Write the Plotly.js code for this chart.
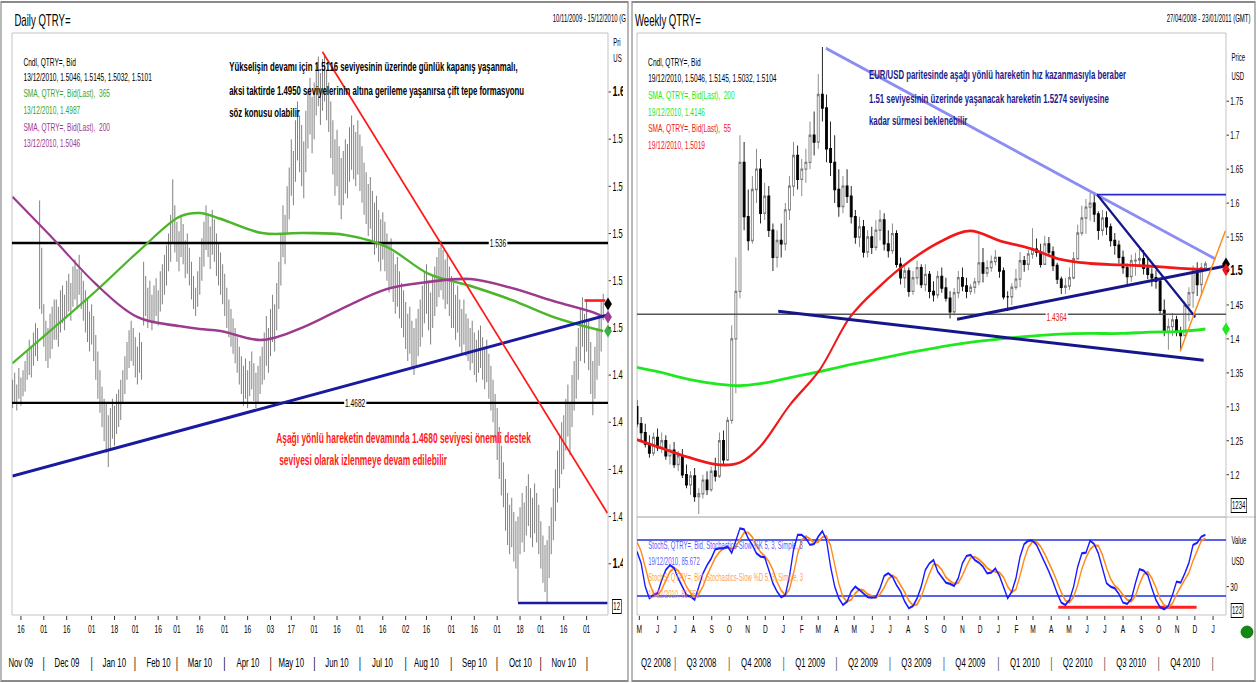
<!DOCTYPE html>
<html><head><meta charset="utf-8">
<script src="https://cdn.plot.ly/plotly-3.0.1.min.js"></script>
<style>
html,body{margin:0;padding:0;background:#fff;overflow:hidden}
#wrap{width:1256px;height:683px;overflow:hidden;position:relative}
#chart{width:2093px;height:683px;transform:scaleX(0.60010);transform-origin:0 0}
</style></head><body><div id="wrap"><div id="chart"></div></div>
<script>
// ---------------- DAILY DATA ----------------
const dailyStart = '2009-11-10';
const dailyHigh = [1.478,1.481,1.476,1.483,1.479,1.482,1.486,
 1.490,1.495,1.492,1.498,1.502,1.500,
 1.554,1.534,
 1.510,1.503,1.500,1.506,1.509,1.512,
 1.512,1.509,1.516,1.518,1.514,1.520,1.523,1.519,1.526,1.529,1.525,1.531,
 1.524,1.520,1.516,1.512,1.507,1.510,
 1.505,1.497,1.490,1.482,
 1.475,1.470,1.468,1.463,1.466,1.470,1.467,1.472,1.474,1.478,
 1.482,1.488,1.494,1.499,1.503,1.500,1.496,1.492,1.498,1.494,
 1.528,1.522,1.517,1.520,1.514,1.518,1.521,1.516,1.524,1.527,1.531,1.535,
 1.540,1.548,1.563,1.552,1.545,1.541,1.548,1.544,1.537,1.540,
 1.534,1.528,1.522,1.517,1.524,1.530,
 1.538,1.545,1.552,1.548,1.543,1.550,1.546,1.540,1.536,
 1.532,1.527,1.523,1.517,1.512,1.508,1.504,1.500,1.496,
 1.492,1.488,1.484,1.487,1.482,1.486,1.490,1.485,1.481,1.484,1.488,1.492,
 1.498,1.505,1.500,1.508,1.514,1.510,1.519,
 1.528,1.540,1.552,1.548,1.560,1.568,
 1.580,1.575,1.588,1.596,1.590,
 1.586,1.579,1.592,1.600,1.606,1.598,1.604,
 1.612,1.615,1.608,1.614,1.616,1.609,1.604,
 1.596,1.588,1.580,1.584,1.577,1.572,
 1.575,1.580,1.578,1.585,1.590,1.586,1.583,1.588,1.582,1.577,
 1.570,1.566,1.561,1.564,1.558,1.553,1.556,1.550,1.546,
 1.549,1.545,1.540,1.536,1.538,1.532,1.527,1.530,1.524,1.519,
 1.516,1.511,1.506,1.509,1.503,1.500,1.504,1.508,1.512,
 1.518,1.524,1.527,1.520,1.515,1.522,
 1.526,1.530,1.534,1.537,1.533,1.529,1.531,1.526,1.522,
 1.519,1.514,1.518,1.512,1.508,1.512,1.506,
 1.504,1.500,1.503,1.498,1.495,1.499,1.501,1.496,1.492,1.495,
 1.489,1.484,1.478,
 1.472,1.466,1.458,1.450,1.443,
 1.436,1.430,1.425,1.428,1.422,1.418,1.420,
 1.424,1.430,1.426,1.433,1.438,1.432,1.428,1.434,1.430,
 1.425,1.418,1.412,1.408,1.410,1.416,
 1.424,1.432,1.440,1.448,1.455,1.460,
 1.463,1.470,1.476,1.468,1.480,1.486,
 1.492,1.500,1.508,1.513,1.506,
 1.512,1.503,1.494,1.486,1.492,1.500,
 1.506,1.512,1.5145];
const dailyLow = [1.466,1.468,1.465,1.470,1.467,1.471,1.473,
 1.478,1.480,1.479,1.484,1.488,1.486,
 1.508,1.506,
 1.492,1.486,1.483,1.487,1.491,1.495,
 1.495,1.492,1.498,1.502,1.499,1.504,1.507,1.503,1.509,1.512,1.508,1.514,
 1.508,1.503,1.498,1.494,1.490,1.493,
 1.486,1.478,1.470,1.464,
 1.458,1.452,1.447,1.441,1.448,1.453,1.450,1.455,1.458,1.461,
 1.468,1.472,1.478,1.483,1.486,1.484,1.479,1.476,1.481,1.478,
 1.501,1.505,1.500,1.503,1.499,1.502,1.505,1.501,1.507,1.510,1.514,1.518,
 1.524,1.528,1.536,1.532,1.528,1.524,1.530,1.527,1.521,1.523,
 1.518,1.512,1.508,1.505,1.509,1.514,
 1.520,1.526,1.533,1.530,1.525,1.531,1.528,1.522,1.518,
 1.514,1.510,1.505,1.500,1.496,1.492,1.489,1.485,1.481,
 1.476,1.472,1.467,1.470,1.466,1.471,1.474,1.469,1.466,1.468,1.472,1.476,
 1.478,1.484,1.481,1.488,1.494,1.490,1.499,
 1.508,1.518,1.530,1.527,1.540,1.546,
 1.556,1.552,1.562,1.571,1.566,
 1.560,1.555,1.566,1.576,1.582,1.574,1.580,
 1.590,1.594,1.586,1.592,1.596,1.588,1.583,
 1.572,1.565,1.556,1.560,1.552,1.546,
 1.552,1.557,1.555,1.562,1.567,1.563,1.560,1.565,1.558,1.553,
 1.548,1.544,1.539,1.542,1.536,1.531,1.534,1.528,1.524,
 1.529,1.524,1.520,1.515,1.517,1.511,1.506,1.509,1.504,1.500,
 1.496,1.491,1.486,1.489,1.483,1.480,1.484,1.488,1.492,
 1.496,1.502,1.506,1.499,1.493,1.500,
 1.505,1.509,1.513,1.516,1.512,1.508,1.510,1.505,1.500,
 1.500,1.495,1.498,1.492,1.489,1.493,1.488,
 1.486,1.482,1.485,1.480,1.477,1.481,1.483,1.478,1.474,1.477,
 1.470,1.465,1.460,
 1.452,1.444,1.436,1.429,1.424,
 1.414,1.408,1.404,1.407,1.401,1.398,1.384,
 1.404,1.409,1.405,1.412,1.416,1.411,1.407,1.413,1.409,
 1.404,1.398,1.392,1.388,1.383,1.394,
 1.404,1.410,1.418,1.426,1.432,1.438,
 1.440,1.448,1.454,1.446,1.458,1.465,
 1.470,1.478,1.486,1.492,1.485,
 1.490,1.482,1.472,1.463,1.470,1.478,
 1.484,1.490,1.5032];
const dailySmaDates = ['2009-11-10','2009-12-08','2010-01-05','2010-02-02','2010-03-02','2010-03-16','2010-03-30','2010-04-27','2010-05-25','2010-06-22','2010-07-20','2010-08-17','2010-09-14','2010-10-12','2010-11-09','2010-12-07','2010-12-13'];
const dailySma365 = [1.4851,1.5002,1.5156,1.5320,1.5470,1.5487,1.5462,1.5402,1.5402,1.5394,1.5343,1.5229,1.5178,1.5118,1.5046,1.4995,1.4987];
const dailySma200 = [1.5555,1.5373,1.5186,1.5046,1.5008,1.4995,1.4987,1.4949,1.5004,1.5089,1.5165,1.5195,1.5207,1.5169,1.5114,1.5063,1.5046];
const dailyLevels = [1.536, 1.4682];
const dailyRedTrendDates = ['2010-06-07','2010-12-15'], dailyRedTrend = [1.617, 1.4215];
const dailyBlueTrendDates = ['2009-11-10','2010-12-15'], dailyBlueTrend = [1.4372, 1.5055];
const dailySupportDates = ['2010-10-15','2010-12-15'], dailySupport = [1.3834, 1.3834];
const dailyResistDates = ['2010-11-30','2010-12-14'], dailyResist = [1.5116, 1.5116];
const dailyLast = {price:1.5101, sma365:1.4987, sma200:1.5046};
const dailyPriceTicks = [1.40,1.42,1.44,1.46,1.48,1.50,1.52,1.54,1.56,1.58,1.60];
const dailyTickDates = ['2009-11-16','2009-12-01','2009-12-16','2010-01-01','2010-01-18','2010-02-01','2010-02-16','2010-03-01','2010-03-16','2010-04-01','2010-04-16','2010-05-03','2010-05-17','2010-06-01','2010-06-16','2010-07-01','2010-07-16','2010-08-02','2010-08-16','2010-09-01','2010-09-16','2010-10-01','2010-10-18','2010-11-01','2010-11-16','2010-12-01'];
const dailyTickText = ['16','01','16','01','18','01','16','01','16','01','16','03','17','01','16','01','16','02','16','01','16','01','18','01','16','01'];
const dailyMonths = ['Nov 09','Dec 09','Jan 10','Feb 10','Mar 10','Apr 10','May 10','Jun 10','Jul 10','Aug 10','Sep 10','Oct 10','Nov 10'];

// ---------------- WEEKLY DATA ----------------
const weeklyStart = '2008-04-27';
const weeklyOpen = [1.300,1.275,1.262,1.245,1.232,1.255,1.240,1.250,1.228,1.236,
 1.215,1.228,1.200,1.185,1.198,1.168,1.172,1.192,1.178,1.205,
 1.198,1.250,1.222,1.280,1.400,1.470,1.660,1.580,1.545,1.620,
 1.650,1.585,1.610,1.560,1.520,1.545,1.540,1.590,1.625,1.670,
 1.635,1.650,1.660,1.700,1.690,1.760,1.740,1.680,1.660,1.620,
 1.595,1.625,1.610,1.580,1.550,1.565,1.528,1.550,1.535,1.560,
 1.575,1.540,1.530,1.555,1.510,1.490,1.500,1.470,1.490,1.505,
 1.480,1.495,1.470,1.465,1.492,1.475,1.460,1.440,1.468,1.490,
 1.478,
 1.470,1.476,1.484,1.512,1.497,1.505,1.514,1.520,1.500,1.462,
 1.462,1.476,1.488,1.515,1.510,1.525,1.532,1.528,1.510,1.540,
 1.528,1.508,1.488,1.476,1.478,1.490,1.518,1.556,1.578,1.594,
 1.600,1.584,1.560,1.578,1.565,1.545,1.538,1.520,1.505,1.492,
 1.515,1.516,1.518,1.504,1.495,1.490,1.485,1.442,1.410,1.418,
 1.428,1.410,1.405,1.450,1.468,1.500,1.480,1.5046];
const weeklyHigh = [1.310,1.285,1.275,1.258,1.262,1.268,1.262,1.258,1.245,1.248,
 1.235,1.238,1.215,1.205,1.210,1.180,1.200,1.205,1.212,1.225,
 1.262,1.265,1.285,1.420,1.520,1.700,1.690,1.620,1.640,1.680,
 1.665,1.630,1.625,1.570,1.560,1.570,1.600,1.640,1.690,1.685,
 1.665,1.680,1.720,1.735,1.790,1.830,1.760,1.720,1.700,1.650,
 1.640,1.650,1.625,1.590,1.580,1.575,1.560,1.565,1.575,1.590,
 1.585,1.560,1.570,1.560,1.520,1.510,1.505,1.500,1.515,1.510,
 1.510,1.500,1.485,1.500,1.505,1.490,1.470,1.475,1.500,1.505,
 1.490,
 1.481,1.490,1.554,1.534,1.516,1.523,1.531,1.520,1.505,1.470,
 1.482,1.503,1.528,1.522,1.531,1.563,1.548,1.540,1.552,1.550,
 1.536,1.512,1.492,1.490,1.505,1.528,1.568,1.596,1.606,1.615,
 1.616,1.588,1.590,1.588,1.570,1.556,1.545,1.530,1.511,1.524,
 1.527,1.537,1.531,1.518,1.504,1.501,1.489,1.458,1.430,1.438,
 1.434,1.418,1.455,1.476,1.508,1.513,1.512,1.5145];
const weeklyLow = [1.270,1.250,1.240,1.225,1.228,1.235,1.232,1.222,1.215,1.210,
 1.205,1.195,1.180,1.170,1.160,1.142,1.165,1.170,1.175,1.190,
 1.195,1.215,1.220,1.275,1.320,1.460,1.560,1.530,1.540,1.600,
 1.570,1.575,1.550,1.500,1.505,1.520,1.530,1.575,1.610,1.620,
 1.610,1.630,1.650,1.670,1.680,1.720,1.660,1.640,1.600,1.580,
 1.585,1.600,1.570,1.540,1.535,1.520,1.520,1.525,1.530,1.545,
 1.530,1.520,1.525,1.505,1.480,1.475,1.462,1.465,1.480,1.475,
 1.470,1.460,1.455,1.460,1.468,1.455,1.430,1.435,1.460,1.470,
 1.460,
 1.465,1.467,1.479,1.483,1.491,1.499,1.508,1.490,1.458,1.441,
 1.450,1.472,1.476,1.499,1.501,1.518,1.521,1.505,1.509,1.522,
 1.500,1.481,1.466,1.466,1.472,1.488,1.518,1.552,1.555,1.574,
 1.572,1.546,1.552,1.553,1.536,1.524,1.511,1.496,1.480,1.484,
 1.493,1.508,1.495,1.488,1.477,1.474,1.436,1.404,1.384,1.404,
 1.404,1.383,1.404,1.426,1.446,1.463,1.463,1.5032];
const weeklyClose = [1.275,1.262,1.245,1.232,1.255,1.240,1.250,1.228,1.236,1.215,
 1.228,1.200,1.185,1.198,1.168,1.172,1.192,1.178,1.205,1.198,
 1.250,1.222,1.280,1.400,1.470,1.660,1.580,1.545,1.620,1.650,
 1.585,1.610,1.560,1.520,1.545,1.540,1.590,1.625,1.670,1.635,
 1.650,1.660,1.700,1.690,1.760,1.740,1.680,1.660,1.620,1.595,
 1.625,1.610,1.580,1.550,1.565,1.528,1.550,1.535,1.560,1.575,
 1.540,1.530,1.555,1.510,1.490,1.500,1.470,1.490,1.505,1.480,
 1.495,1.470,1.465,1.492,1.475,1.460,1.440,1.468,1.490,1.478,
 1.470,
 1.476,1.484,1.512,1.497,1.505,1.514,1.520,1.500,1.462,1.462,
 1.476,1.488,1.515,1.510,1.525,1.532,1.528,1.510,1.540,1.528,
 1.508,1.488,1.476,1.478,1.490,1.518,1.556,1.578,1.594,1.600,
 1.584,1.560,1.578,1.565,1.545,1.538,1.520,1.505,1.492,1.515,
 1.516,1.518,1.504,1.495,1.490,1.485,1.442,1.410,1.418,1.428,
 1.410,1.405,1.450,1.468,1.500,1.480,1.505,1.5104];
const weeklySmaDates = ['2008-04-27','2008-06-05','2008-07-26','2008-09-15','2008-10-19','2008-11-22','2009-01-12','2009-03-04','2009-04-24','2009-06-14','2009-08-04','2009-09-24','2009-11-14','2010-01-05','2010-02-25','2010-04-17','2010-06-07','2010-07-28','2010-09-17','2010-11-07','2010-12-19'];
const weeklySma200 = [1.358,1.351,1.340,1.333,1.331,1.334,1.343,1.352,1.362,1.371,1.380,1.388,1.395,1.400,1.404,1.407,1.408,1.408,1.410,1.411,1.4146];
const weeklySma55 = [1.2515,1.240,1.225,1.2145,1.218,1.241,1.303,1.355,1.432,1.478,1.515,1.543,1.559,1.544,1.533,1.517,1.511,1.509,1.507,1.504,1.5019];
const weeklyLevel = 1.4364;
const wLightBlueDates = ['2009-03-14','2011-01-05'], wLightBlue = [1.828, 1.5177];
const wNavyDownDates = ['2010-06-18','2010-12-02'], wNavyDown = [1.6124, 1.432];
const wNavyLowDates = ['2008-12-23','2010-12-16'], wNavyLow = [1.4408, 1.3684];
const wNavyUpDates = ['2009-10-23','2011-01-22'], wNavyUp = [1.429, 1.5074];
const wTopDates = ['2010-06-18','2011-01-23'], wTop = [1.6124, 1.6124];
const wOrangeDates = ['2010-11-06','2011-01-22'], wOrange = [1.3817, 1.5592];
const weeklyLast = {price:1.5104, sma200:1.4146, sma55:1.5019};
const weeklyPriceTicks = [1.2,1.25,1.3,1.35,1.4,1.45,1.5,1.55,1.6,1.65,1.7,1.75];
const stochK = [67.5,55,30,17.5,21,23,37,48,53,50,
 39,30,21,19.3,16,30,44,53,60,70,
 71,71,73,66,80,92.5,91.4,81.8,74.7,65.7,
 62.2,61.4,47.9,33.6,24.7,18.6,21,40.7,69.3,85.4,
 85.4,81.8,74.7,75.7,83.6,89.6,80,51.4,30,17.5,
 10.4,14,24.7,30,26.5,22.2,18.6,18.2,18.6,28.3,
 41.4,44.3,40.7,31.8,24.7,14,6.8,9.3,17.5,30,
 47.9,55,58.6,46.1,40,34.3,32.9,30.7,39,55,
 62.9,64,58.6,55.7,51.4,44.3,45,49.6,41.4,30,
 17.5,24.7,39,62.2,75.7,79.3,79.3,74.7,65.7,55.7,
 46.1,35.4,22.9,12.9,10.4,15.7,30,51.4,65.7,66.4,
 79.3,75.7,65.7,49.6,33.6,30,28.2,22.2,12.9,11.5,
 16.5,33.6,48.6,47.2,42.5,28.3,15.7,7.9,5.7,9.3,
 21,35.4,34.3,44.3,55.7,74.7,77.1,83.6,85.672];
const stochD = [78,68,51,34,23,20,27,36,46,50,
 47,40,30,23,19,22,30,42,52,61,
 67,71,72,70,73,80,88,88,83,74,
 67,63,57,48,35,26,21,27,44,65,
 80,84,81,77,78,83,84,74,54,33,
 19,14,16,23,27,26,22,20,18,22,
 29,38,42,39,32,24,15,10,11,19,
 32,44,54,53,48,40,36,33,34,42,
 52,61,62,59,55,50,47,46,45,40,
 30,24,27,42,59,72,78,78,73,65,
 56,46,35,24,15,13,19,32,49,61,
 70,74,74,64,50,38,31,27,21,16,
 14,20,33,43,46,39,29,17,10,8,
 12,22,30,38,45,58,69,79,81.9];
const stochLevels = [80, 20];
const stochRedDates = ['2010-04-13','2010-12-04'], stochRed = [8, 8];
const weeklyMonthLetters = ['M','J','J','A','S','O','N','D','J','F','M','A','M','J','J','A','S','O','N','D','J','F','M','A','M','J','J','A','S','O','N','D','J'];
const quarterLabels = ['Q2 2008','Q3 2008','Q4 2008','Q1 2009','Q2 2009','Q3 2009','Q4 2009','Q1 2010','Q2 2010','Q3 2010','Q4 2010'];

// ---------------- helpers ----------------
const F = 'Liberation Sans, Arial, sans-serif';
const W = 1256, H = 683;
const px = x => x / W, py = y => 1 - y / H;
const DAY = 86400000;
const iso = t => new Date(t).toISOString().slice(0, 10);
function weekdays(start, n) {
  const out = []; let t = Date.parse(start + 'T00:00:00Z');
  while (out.length < n) { const wd = new Date(t).getUTCDay(); if (wd !== 0 && wd !== 6) out.push(iso(t)); t += DAY; }
  return out;
}
function weekly(start, n) { const t0 = Date.parse(start + 'T00:00:00Z'); return Array.from({length:n}, (_, i) => iso(t0 + i * 7 * DAY)); }
function note(x, y, text, o) {
  o = o || {};
  const a = {xref:'paper', yref:'paper', x:px(x), y:py(y), text:text, showarrow:false,
    xanchor:o.xanchor || 'left', yanchor:'middle',
    font:{family:F, size:o.size || 11, color:o.color || '#000'}};
  if (o.bg) { a.bgcolor = o.bg; a.borderpad = 1; }
  if (o.border) { a.bordercolor = o.border; a.borderwidth = 1; a.borderpad = 1; }
  return a;
}
const dDates = weekdays(dailyStart, dailyHigh.length);
const wDates = weekly(weeklyStart, weeklyClose.length);

const traces = [];
// daily high-low bars
const bx = [], by = [];
dDates.forEach((d, i) => { bx.push(d, d, null); by.push(dailyLow[i], dailyHigh[i], null); });
traces.push({type:'scatter', mode:'lines', x:bx, y:by, xaxis:'x', yaxis:'y', line:{color:'#7c7c7c', width:1.6}, hoverinfo:'skip'});
const dRange = ['2009-11-09 17:00', '2010-12-15 07:00'];
dailyLevels.forEach(v => traces.push({type:'scatter', mode:'lines', x:dRange, y:[v, v], xaxis:'x', yaxis:'y', line:{color:'#000', width:2.4}, hoverinfo:'skip'}));
traces.push({type:'scatter', mode:'lines', x:dailySmaDates, y:dailySma365, xaxis:'x', yaxis:'y', line:{color:'#4cb52a', width:2.6, shape:'spline'}});
traces.push({type:'scatter', mode:'lines', x:dailySmaDates, y:dailySma200, xaxis:'x', yaxis:'y', line:{color:'#9c3a8e', width:2.6, shape:'spline'}});
traces.push({type:'scatter', mode:'lines', x:dailyBlueTrendDates, y:dailyBlueTrend, xaxis:'x', yaxis:'y', line:{color:'#1a1aa0', width:3}});
traces.push({type:'scatter', mode:'lines', x:dailyRedTrendDates, y:dailyRedTrend, xaxis:'x', yaxis:'y', line:{color:'#ff1a1a', width:2.4}});
traces.push({type:'scatter', mode:'lines', x:dailySupportDates, y:dailySupport, xaxis:'x', yaxis:'y', line:{color:'#1a1aa0', width:2.6}});
traces.push({type:'scatter', mode:'lines', x:dailyResistDates, y:dailyResist, xaxis:'x', yaxis:'y', line:{color:'#ff1a1a', width:2.6}});
traces.push({type:'scatter', mode:'markers', x:[dRange[1], dRange[1], dRange[1]], y:[dailyLast.price, dailyLast.sma200, dailyLast.sma365], xaxis:'x', yaxis:'y', cliponaxis:false,
  marker:{symbol:'diamond', size:10, color:['#000', '#9c3a8e', '#3cb043']}});

// weekly
const wRange = ['2008-04-27', '2011-01-23'];
traces.push({type:'scatter', mode:'lines', x:wRange, y:[weeklyLevel, weeklyLevel], xaxis:'x2', yaxis:'y2', line:{color:'#555', width:1.6}});
traces.push({type:'candlestick', x:wDates, open:weeklyOpen, high:weeklyHigh, low:weeklyLow, close:weeklyClose, xaxis:'x2', yaxis:'y2',
  increasing:{line:{color:'#7a7a7a', width:1.4}, fillcolor:'#ffffff'}, decreasing:{line:{color:'#000', width:1.4}, fillcolor:'#000'}, whiskerwidth:0, hoverinfo:'skip'});
traces.push({type:'scatter', mode:'lines', x:weeklySmaDates, y:weeklySma200, xaxis:'x2', yaxis:'y2', line:{color:'#1ee81e', width:2.8, shape:'spline'}});
traces.push({type:'scatter', mode:'lines', x:weeklySmaDates, y:weeklySma55, xaxis:'x2', yaxis:'y2', line:{color:'#f01818', width:2.8, shape:'spline'}});
traces.push({type:'scatter', mode:'lines', x:wLightBlueDates, y:wLightBlue, xaxis:'x2', yaxis:'y2', line:{color:'#8c8cf2', width:3}});
traces.push({type:'scatter', mode:'lines', x:wTopDates, y:wTop, xaxis:'x2', yaxis:'y2', line:{color:'#2a2ad0', width:1.6}});
traces.push({type:'scatter', mode:'lines', x:wNavyDownDates, y:wNavyDown, xaxis:'x2', yaxis:'y2', line:{color:'#16168a', width:3}});
traces.push({type:'scatter', mode:'lines', x:wNavyLowDates, y:wNavyLow, xaxis:'x2', yaxis:'y2', line:{color:'#16168a', width:3}});
traces.push({type:'scatter', mode:'lines', x:wNavyUpDates, y:wNavyUp, xaxis:'x2', yaxis:'y2', line:{color:'#16168a', width:3}});
traces.push({type:'scatter', mode:'lines', x:wOrangeDates, y:wOrange, xaxis:'x2', yaxis:'y2', line:{color:'#ff8c1a', width:2.2}});
traces.push({type:'scatter', mode:'markers', x:[wRange[1], wRange[1], wRange[1]], y:[weeklyLast.price, weeklyLast.sma55, weeklyLast.sma200], xaxis:'x2', yaxis:'y2', cliponaxis:false,
  marker:{symbol:'diamond', size:10, color:['#000', '#f01818', '#1ee81e']}});
// stochastics
stochLevels.forEach(v => traces.push({type:'scatter', mode:'lines', x:wRange, y:[v, v], xaxis:'x2', yaxis:'y3', line:{color:'#2030e0', width:1.6}}));
traces.push({type:'scatter', mode:'lines', x:stochRedDates, y:stochRed, xaxis:'x2', yaxis:'y3', line:{color:'#ff2020', width:3}});
traces.push({type:'scatter', mode:'lines', x:wDates, y:stochD, xaxis:'x2', yaxis:'y3', line:{color:'#ff8c1a', width:2.2}});
traces.push({type:'scatter', mode:'lines', x:wDates, y:stochK, xaxis:'x2', yaxis:'y3', line:{color:'#1a1aff', width:2.2}});

// ---------------- annotations ----------------
const ann = [];
const blackBold = {size:13, color:'#000'};
ann.push(note(13, 20, 'Daily QTRY=', {size:16}));
ann.push(note(627, 18, '10/11/2009 - 15/12/2010 (G', {size:10, xanchor:'right'}));
ann.push(note(22, 62, 'Cndl, QTRY=, Bid'));
ann.push(note(22, 77, '13/12/2010, 1.5046, 1.5145, 1.5032, 1.5101'));
ann.push(note(22, 93, 'SMA, QTRY=, Bid(Last),  365', {color:'#3aa52a'}));
ann.push(note(22, 110, '13/12/2010, 1.4987', {color:'#3aa52a'}));
ann.push(note(22, 127, 'SMA, QTRY=, Bid(Last),  200', {color:'#9c3a8e'}));
ann.push(note(22, 143, '13/12/2010, 1.5046', {color:'#9c3a8e'}));
ann.push(note(228, 67, '<b>Yükselişin devamı için 1.5116 seviyesinin üzerinde günlük kapanış yaşanmalı,</b>', blackBold));
ann.push(note(228, 90, '<b>aksi taktirde 1.4950 seviyelerinin altına gerileme yaşanırsa çift tepe formasyonu</b>', blackBold));
ann.push(note(228, 112, '<b>söz konusu olabilir</b>', blackBold));
ann.push(note(275, 438, '<b>Aşağı yönlü hareketin devamında 1.4680 seviyesi önemli destek</b>', {size:14, color:'#ff1a1a'}));
ann.push(note(278, 460, '<b>seviyesi olarak izlenmeye devam edilebilir</b>', {size:14, color:'#ff1a1a'}));
ann.push(note(498, 243, '1.536', {bg:'#fff', xanchor:'center'}));
ann.push(note(355, 403, '1.4682', {bg:'#fff', xanchor:'center'}));
ann.push(note(612, 42, 'Pri', {size:10}));
ann.push(note(612, 59, 'US', {size:10}));
ann.push(note(612, 606, '12', {size:10, border:'#000', bg:'#fff'}));
dailyMonths.forEach((m, k) => ann.push({xref:'x', yref:'paper', x:dailyTickDates[2 * k], y:py(662), text:m, showarrow:false, xanchor:'center', yanchor:'middle', font:{family:F, size:13, color:'#000'}}));
dailyTickDates.forEach((d, k) => { if (k % 2 === 1) ann.push({xref:'x', yref:'paper', x:d, y:py(662), text:'|', showarrow:false, xanchor:'center', yanchor:'middle', font:{family:F, size:15, color:'#000'}}); });

ann.push(note(634, 20, 'Weekly QTRY=', {size:16}));
ann.push(note(1252, 18, '27/04/2008 - 23/01/2011 (GMT)', {size:10, xanchor:'right'}));
ann.push(note(647, 62, 'Cndl, QTRY=, Bid'));
ann.push(note(647, 78, '19/12/2010, 1.5046, 1.5145, 1.5032, 1.5104'));
ann.push(note(647, 95, 'SMA, QTRY=, Bid(Last),  200', {color:'#1ee81e'}));
ann.push(note(647, 112, '19/12/2010, 1.4146', {color:'#1ee81e'}));
ann.push(note(647, 128, 'SMA, QTRY=, Bid(Last),  55', {color:'#f01818'}));
ann.push(note(647, 145, '19/12/2010, 1.5019', {color:'#f01818'}));
const navy = {size:13, color:'#1c1c8c'};
ann.push(note(868, 75, '<b>EUR/USD paritesinde aşağı yönlü hareketin hız kazanmasıyla beraber</b>', navy));
ann.push(note(868, 98, '<b>1.51 seviyesinin üzerinde yaşanacak hareketin 1.5274 seviyesine</b>', navy));
ann.push(note(868, 120, '<b>kadar sürmesi beklenebilir</b>', navy));
ann.push(note(1057, 317, '1.4364', {bg:'#fff', color:'#e01818', xanchor:'center'}));
ann.push(note(1230, 57, 'Price', {size:10}));
ann.push(note(1230, 76, 'USD', {size:10}));
ann.push(note(1231, 505, '1234', {size:10, border:'#000', bg:'#fff'}));
ann.push(note(1230, 540, 'Value', {size:10}));
ann.push(note(1230, 561, 'USD', {size:10}));
ann.push(note(1231, 610, '123', {size:10, border:'#000', bg:'#fff'}));
ann.push(note(647, 545, 'StochS, QTRY=, Bid, Stochastics-Slow %K 5, 3, Simple, 3', {size:10, color:'rgba(40,40,255,0.8)'}));
ann.push(note(647, 561, '19/12/2010, 85.672', {size:10, color:'rgba(40,40,255,0.8)'}));
ann.push(note(647, 577, 'StochS, QTRY=, Bid, Stochastics-Slow %D 5, 3, Simple, 3', {size:10, color:'rgba(255,140,30,0.85)'}));
ann.push(note(647, 594, '19/12/2010, 81.952', {size:10, color:'rgba(255,140,30,0.85)'}));
// quarter labels & separators
const qStarts = [];
for (let y = 2008, m = 7; y < 2011 || (y === 2011 && m === 1); ) { qStarts.push(y + '-' + String(m).padStart(2, '0') + '-01'); m += 3; if (m > 12) { m -= 12; y++; } }
const qCenters = ['2008-05-29'].concat(qStarts.slice(0, -1).map(s => iso(Date.parse(s + 'T00:00:00Z') + 45 * DAY)));
quarterLabels.forEach((q, k) => ann.push({xref:'x2', yref:'paper', x:qCenters[k], y:py(662), text:q, showarrow:false, xanchor:'center', yanchor:'middle', font:{family:F, size:13, color:'#000'}}));
qStarts.forEach(s => ann.push({xref:'x2', yref:'paper', x:s, y:py(662), text:'|', showarrow:false, xanchor:'center', yanchor:'middle', font:{family:F, size:15, color:'#555'}}));
const mTicks = weeklyMonthLetters.map((_, k) => { const mm = 4 + k; const y = 2008 + Math.floor(mm / 12); return y + '-' + String(mm % 12 + 1).padStart(2, '0') + '-01'; });

// ---------------- shapes (frames) ----------------
const rect = (x0, y0, x1, y1, c, w, fill, layer) => ({type:'rect', xref:'paper', yref:'paper', x0:px(x0), x1:px(x1), y0:py(y1), y1:py(y0), line:{color:c, width:w}, fillcolor:fill || 'rgba(0,0,0,0)', layer:layer || 'below'});
const shapes = [
  rect(12, 33, 608, 615, '#b4b4b4', 1),
  rect(637, 33, 1226, 517, '#b4b4b4', 1),
  rect(637, 517, 1226, 615, '#b4b4b4', 1),
  {type:'line', xref:'paper', yref:'paper', x0:px(1226), x1:px(1256), y0:py(517), y1:py(517), line:{color:'#b4b4b4', width:1}},
  rect(623, 25, 633, 683, 'rgba(0,0,0,0)', 0, '#ffffff', 'above'),
  rect(1, 2, 628, 681, '#8a8a8a', 2, null, 'above'),
  rect(632, 2, 1255, 681, '#8a8a8a', 2, null, 'above'),
  {type:'circle', xref:'paper', yref:'paper', x0:px(1241), x1:px(1253), y0:py(638), y1:py(626), fillcolor:'#118811', line:{color:'#0a6a0a', width:1}, layer:'above'}
];

const axFont = {family:F, size:11, color:'#000'};
const big = s => '<span style="font-size:15px"><b>' + s + '</b></span>';
const dailyTickLabels = dailyPriceTicks.map(v => (v === 1.40 || v === 1.60) ? big(v.toFixed(2)) : v.toFixed(2));
const weeklyTickLabels = weeklyPriceTicks.map(v => v === 1.5 ? big(String(v)) : String(v));
const layout = {
  width:2093, height:683, margin:{l:0, r:0, t:0, b:0}, showlegend:false,
  paper_bgcolor:'#fff', plot_bgcolor:'#fff', font:{family:F},
  xaxis:{type:'date', domain:[px(12), px(608)], range:dRange, anchor:'y', rangebreaks:[{bounds:['sat', 'mon']}],
    tickmode:'array', tickvals:dailyTickDates, ticktext:dailyTickText, ticks:'outside', ticklen:4, tickcolor:'#000', tickfont:axFont,
    showgrid:false, zeroline:false, showline:false, fixedrange:true},
  yaxis:{domain:[py(615), py(33)], range:[1.3783, 1.625], anchor:'x', side:'right', tickmode:'array', tickvals:dailyPriceTicks, ticktext:dailyTickLabels,
    ticks:'outside', ticklen:4, tickcolor:'#000', tickfont:{family:F, size:12, color:'#000'}, showgrid:false, zeroline:false, showline:false},
  xaxis2:{type:'date', domain:[px(637), px(1226)], range:wRange, anchor:'y3', rangeslider:{visible:false},
    tickmode:'array', tickvals:mTicks, ticktext:weeklyMonthLetters, ticks:'outside', ticklen:4, tickcolor:'#000', tickfont:axFont,
    showgrid:false, zeroline:false, showline:false},
  yaxis2:{domain:[py(517), py(33)], range:[1.1377, 1.8505], anchor:'x2', side:'right',
    tickmode:'array', tickvals:weeklyPriceTicks, ticktext:weeklyTickLabels,
    ticks:'outside', ticklen:4, tickcolor:'#000', tickfont:axFont, showgrid:false, zeroline:false, showline:false},
  yaxis3:{domain:[py(615), py(519)], range:[-0.4, 102.5], anchor:'x2', side:'right', tickmode:'array', tickvals:[30], ticktext:['30'],
    ticks:'outside', ticklen:4, tickcolor:'#000', tickfont:axFont, showgrid:false, zeroline:false, showline:false},
  annotations:ann, shapes:shapes
};
Plotly.newPlot('chart', traces, layout, {staticPlot:true, displayModeBar:false});
</script></body></html>
